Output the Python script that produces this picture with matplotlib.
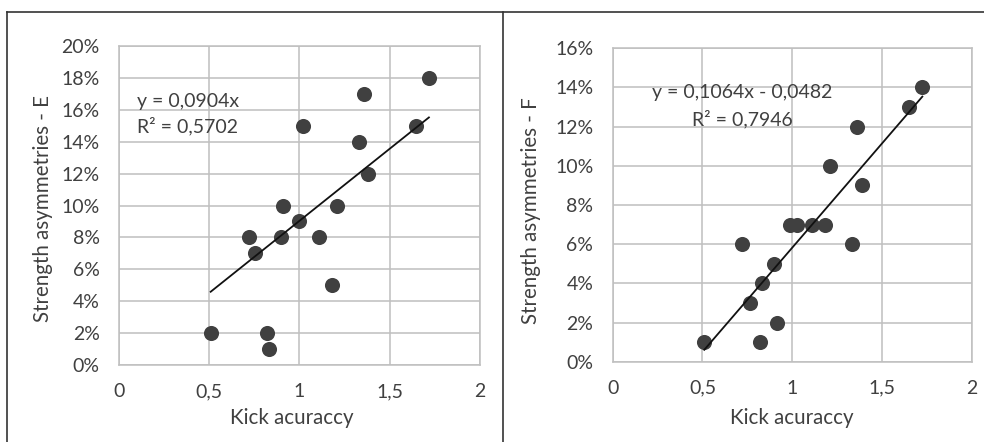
"""
Kick accuracy vs strength asymmetries (E and F) - two scatter panels with trendlines
"""

import matplotlib
matplotlib.use('Agg')
import matplotlib.pyplot as plt
from matplotlib.lines import Line2D
from matplotlib.ticker import FuncFormatter

plt.rcParams['font.family'] = ['Lato', 'DejaVu Sans']

# ── Data ──────────────────────────────────────────────────────────────────
kick_e = [1.717, 1.357, 1.019, 1.645, 1.328, 1.377, 0.907, 1.206, 0.997,
          0.718, 0.897, 1.106, 0.755, 1.178, 0.508, 0.818, 0.829]
asym_e = [0.18, 0.17, 0.15, 0.15, 0.14, 0.12, 0.10, 0.10, 0.09,
          0.08, 0.08, 0.08, 0.07, 0.05, 0.02, 0.02, 0.01]

kick_f = [1.725, 1.652, 1.363, 1.212, 1.387, 0.988, 1.025, 1.109, 1.183,
          0.720, 1.335, 0.900, 0.832, 0.763, 0.914, 0.510, 0.821]
asym_f = [0.14, 0.13, 0.12, 0.10, 0.09, 0.07, 0.07, 0.07, 0.07,
          0.06, 0.06, 0.05, 0.04, 0.03, 0.02, 0.01, 0.01]

# trendline coefficients (slope, intercept) as shown in the chart
fit_e = (0.0904, 0.0)
fit_f = (0.1064, -0.0482)
eq_e = ['y = 0,0904x', 'R² = 0,5702']
eq_f = ['y = 0,1064x - 0,0482', 'R² = 0,7946']

x_ticks = [0, 0.5, 1, 1.5, 2]
x_ticklabels = ['0', '0,5', '1', '1,5', '2']
y_max_e = 0.20
y_max_f = 0.16

X_LABEL = 'Kick acuraccy'
Y_LABEL_E = 'Strength asymmetries - E'
Y_LABEL_F = 'Strength asymmetries - F'

GRID = '#BFBFBF'
DOT = '#404040'
TXT = '#404040'
FS = 14
FS_TITLE = 14.8


def style_axes(ax, y_max):
    ax.set_xlim(0, 2)
    ax.set_ylim(0, y_max)
    ax.set_xticks(x_ticks)
    ax.set_xticklabels(x_ticklabels)
    ax.set_yticks([i * 0.02 for i in range(int(round(y_max / 0.02)) + 1)])
    ax.yaxis.set_major_formatter(FuncFormatter(lambda v, _: f'{v * 100:.0f}%'))
    ax.grid(True, color=GRID, linewidth=1.1, zorder=0)
    for sp in ax.spines.values():
        sp.set_color(GRID)
        sp.set_linewidth(1.1)
    ax.tick_params(length=0, labelsize=FS, colors=TXT)
    ax.tick_params(axis='y', pad=14)
    ax.tick_params(axis='x', pad=13)
    ax.set_axisbelow(True)


def draw_panel(ax, xs, ys, fit):
    ax.scatter(xs, ys, s=118, color=DOT, zorder=3, linewidths=0)
    x0, x1 = min(xs), max(xs)
    slope, icpt = fit
    ax.plot([x0, x1], [slope * x0 + icpt, slope * x1 + icpt],
            color='#111111', linewidth=1.3, zorder=4)


fig = plt.figure(figsize=(9.84, 4.42), dpi=100)

ax_e = fig.add_axes([0.1209, 0.1742, 0.3669, 0.7217])
ax_f = fig.add_axes([0.6227, 0.1817, 0.3648, 0.7090])

style_axes(ax_e, y_max_e)
style_axes(ax_f, y_max_f)
draw_panel(ax_e, kick_e, asym_e, fit_e)
draw_panel(ax_f, kick_f, asym_f, fit_f)

# equation labels
ax_e.text(0.10, 0.165, eq_e[0], ha='left', va='center', fontsize=FS, color=TXT, zorder=5)
ax_e.text(0.10, 0.1495, eq_e[1], ha='left', va='center', fontsize=FS, color=TXT, zorder=5)
ax_f.text(0.72, 0.1375, eq_f[0], ha='center', va='center', fontsize=FS, color=TXT, zorder=5)
ax_f.text(0.72, 0.124, eq_f[1], ha='center', va='center', fontsize=FS, color=TXT, zorder=5)

# axis titles
fig.text(0.2970, 1 - 418 / 442, X_LABEL, ha='center', va='center', fontsize=FS_TITLE, color=TXT)
fig.text(0.8051, 1 - 418 / 442, X_LABEL, ha='center', va='center', fontsize=FS_TITLE, color=TXT)
fig.text(43 / 984, 1 - 208 / 442, Y_LABEL_E, rotation=90, ha='center', va='center',
         fontsize=FS_TITLE, color=TXT)
fig.text(531 / 984, 1 - 211 / 442, Y_LABEL_F, rotation=90, ha='center', va='center',
         fontsize=FS_TITLE, color=TXT)

# chart borders (Excel chart frames)
top = 1 - 12.3 / 442
frame = dict(color='#333333', linewidth=1.2, transform=fig.transFigure)
fig.add_artist(Line2D([7 / 984, 1], [top, top], **frame))
fig.add_artist(Line2D([7 / 984, 7 / 984], [0, top], **frame))
fig.add_artist(Line2D([502.7 / 984, 502.7 / 984], [0, top], **frame))

fig.savefig('out.png', dpi=100)
